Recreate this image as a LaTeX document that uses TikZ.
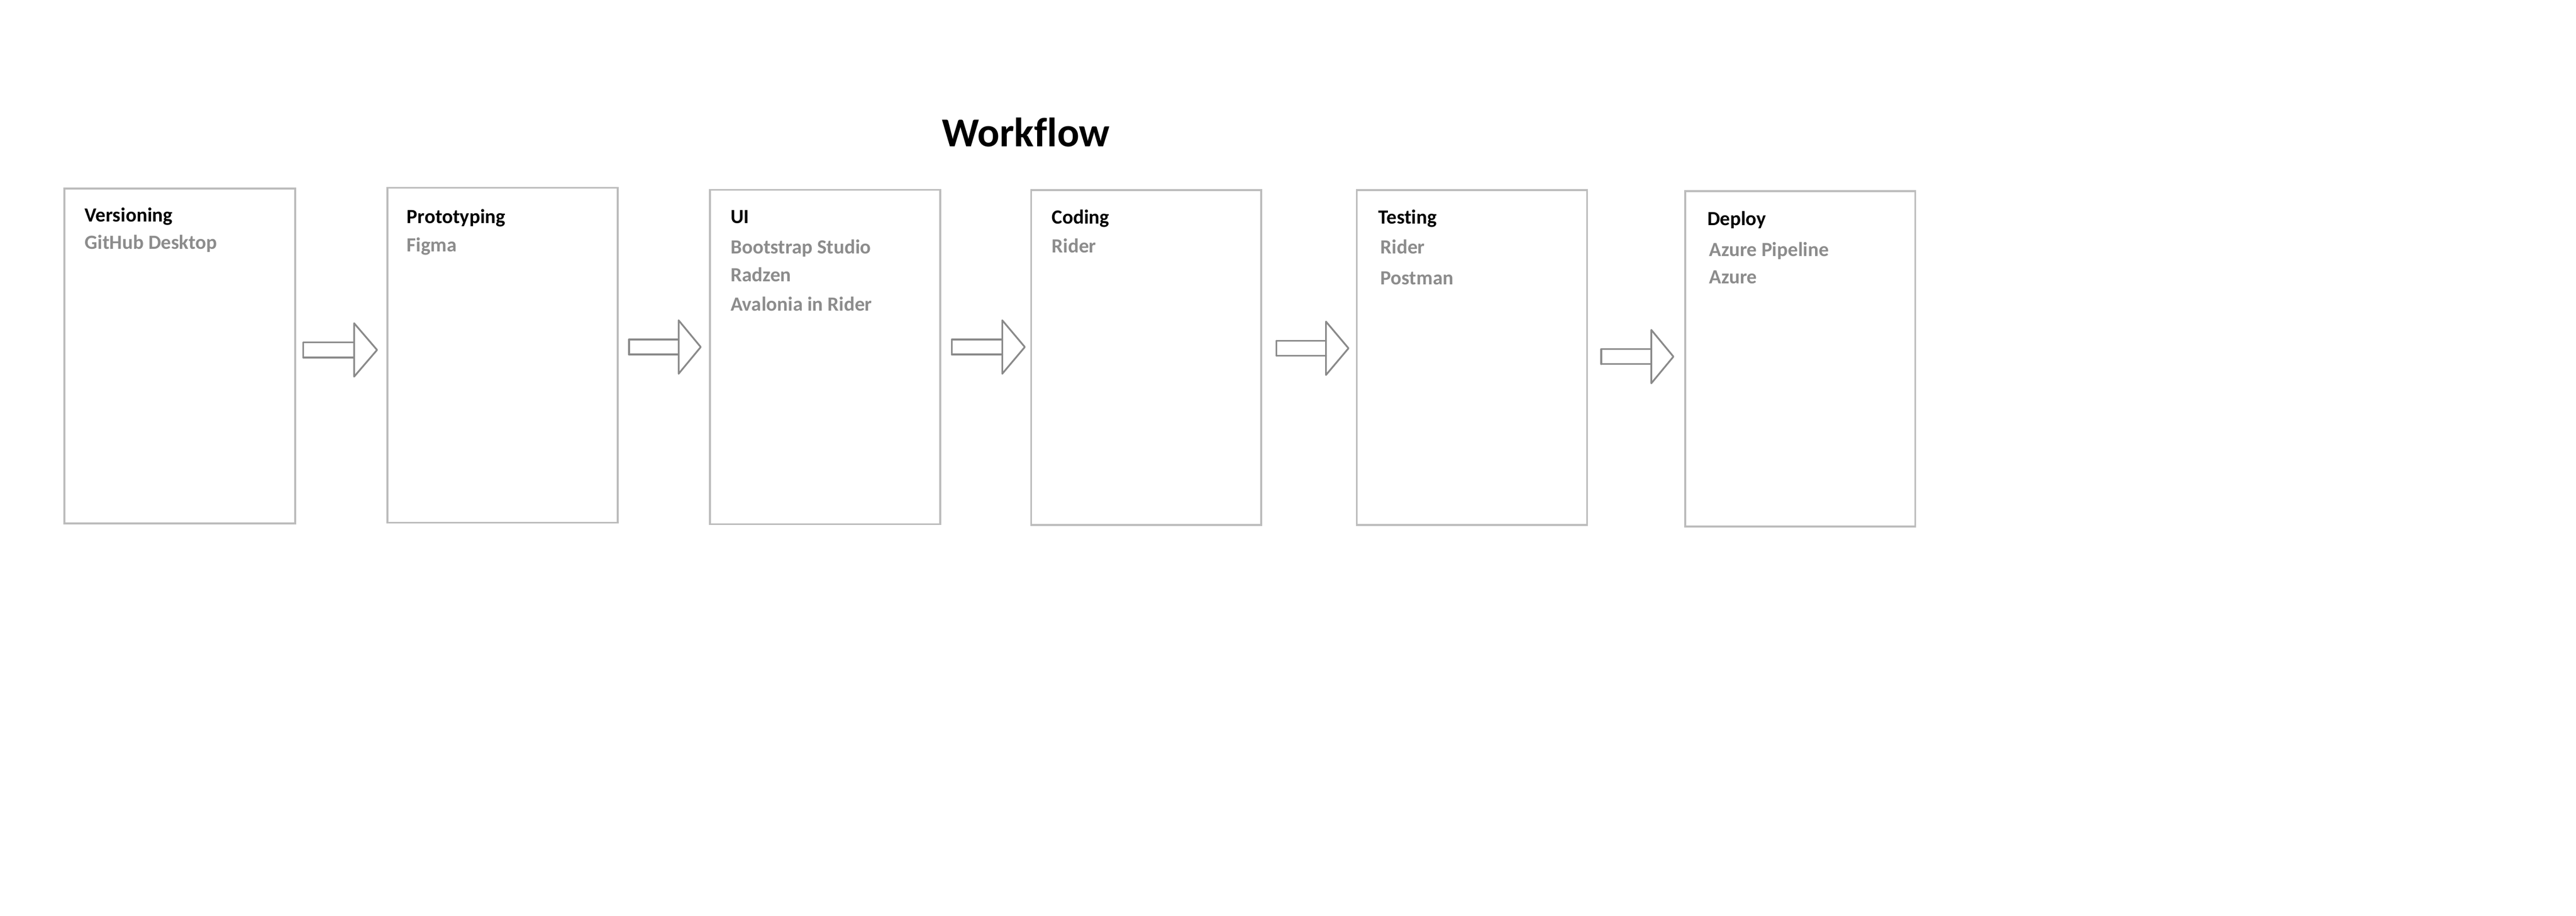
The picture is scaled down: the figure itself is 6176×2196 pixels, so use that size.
\documentclass[tikz,border=0pt]{standalone}
\usepackage{fontspec}
\setmainfont{Carlito}[Ligatures=NoCommon]
\definecolor{boxgray}{RGB}{188,188,188}
\definecolor{arrgray}{RGB}{138,138,138}
\definecolor{txtgray}{RGB}{140,140,140}
\newcommand\wfarrow[4]{% left, base, tip, centre y
  \draw[arrowline] (#1,#4-18) -- (#2,#4-18);
  \draw[arrowline] (#1,#4+18) -- (#2,#4+18);
  \draw[arrowline] (#1,#4-18) -- (#1,#4+18);
  \draw[arrowline] (#2,#4-64) -- (#3,#4) -- (#2,#4+64) -- cycle;
}
\begin{document}
\begin{tikzpicture}[x=0.01cm,y=-0.01cm,
  stagebox/.style={draw=boxgray,line width=0.045cm},
  head/.style={anchor=base west,inner sep=0pt,font=\fontsize{13.7pt}{16pt}\selectfont\bfseries,text=black},
  tool/.style={anchor=base west,inner sep=0pt,font=\fontsize{13.7pt}{16pt}\selectfont\bfseries,text=txtgray},
  arrowline/.style={draw=arrgray,line width=0.042cm,line join=round,line cap=round}]
\useasboundingbox (0,0) rectangle (6176,2196);
\fill[white] (0,0) rectangle (6176,2196);
% title
\node[anchor=base west,inner sep=0pt,font=\fontsize{28pt}{32pt}\selectfont\bfseries] (title) at (2258,352) {Workflow};
% boxes
\draw[stagebox] (154,452) rectangle (708,1255);
\draw[stagebox] (929,450) rectangle (1481,1253);
\draw[stagebox] (1702,455) rectangle (2254,1257);
\draw[stagebox] (2472,456) rectangle (3024,1259);
\draw[stagebox] (3253,456) rectangle (3805,1259);
\draw[stagebox] (4040,458) rectangle (4592,1262);
% texts
\node[head] (h1) at (203,532) {Versioning};
\node[tool] (t11) at (203,597) {GitHub Desktop};
\node[head] (h2) at (975,536) {Prototyping};
\node[tool] (t21) at (975,603) {Figma};
\node[head] (h3) at (1751,535) {UI};
\node[tool] (t31) at (1751,608) {Bootstrap Studio};
\node[tool] (t32) at (1751,675) {Radzen};
\node[tool] (t33) at (1751,746) {Avalonia in Rider};
\node[head] (h4) at (2521,537) {Coding};
\node[tool] (t41) at (2521,606) {Rider};
\node[head] (h5) at (3304,537) {Testing};
\node[tool] (t51) at (3309,608) {Rider};
\node[tool] (t52) at (3309,683) {Postman};
\node[head] (h6) at (4093,540) {Deploy};
\node[tool] (t61) at (4097,614) {Azure Pipeline};
\node[tool] (t62) at (4097,680) {Azure};
% arrows
\wfarrow{727}{849}{904}{839}
\wfarrow{1508}{1627}{1680}{832}
\wfarrow{2282}{2403}{2457}{832}
\wfarrow{3060}{3179}{3233}{835}
\wfarrow{3839}{3959}{4012}{855}
\end{tikzpicture}
\end{document}
